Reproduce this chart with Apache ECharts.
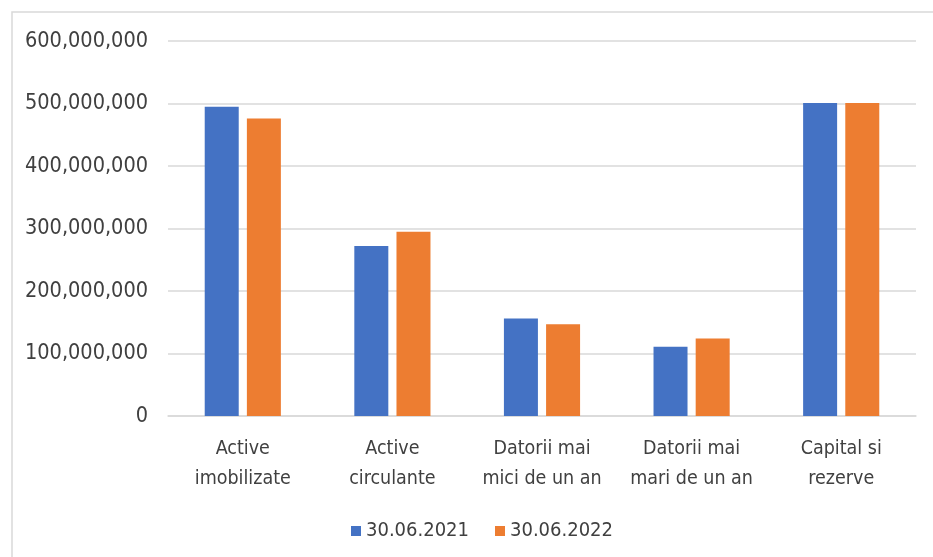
<!DOCTYPE html>
<html>
<head>
<meta charset="utf-8">
<script src="https://cdn.jsdelivr.net/npm/echarts@6/dist/echarts.min.js"></script>
<style>
  html, body { margin: 0; padding: 0; background: #fff; }
  #chart { width: 933px; height: 557px; }
</style>
</head>
<body>
<div id="chart"></div>
<script>
// categories and values
const categories = ['Active\nimobilizate', 'Active\ncirculante', 'Datorii mai\nmici de un an', 'Datorii mai\nmari de un an', 'Capital si\nrezerve'];
const seriesNames = ['30.06.2021', '30.06.2022'];
const values2021 = [495000000, 272000000, 156000000, 111000000, 501000000];
const values2022 = [476000000, 295000000, 147000000, 124000000, 501000000];

const chart = echarts.init(document.getElementById('chart'));
const textColor = '#404040';
const fontFamily = 'DejaVu Sans Condensed, Liberation Sans Narrow, Noto Sans, sans-serif';

const option = {
  animation: false,
  color: ['#4472C4', '#ED7D31'],
  textStyle: { fontFamily: fontFamily },
  graphic: [{
    type: 'rect',
    shape: { x: 12, y: 12, width: 940, height: 560 },
    style: { fill: 'none', stroke: '#D9D9D9', lineWidth: 1.5 },
    silent: true
  }],
  grid: { left: 168, right: 17, top: 41, bottom: 141 },
  legend: {
    data: seriesNames,
    left: 346,
    top: 516,
    itemWidth: 10,
    itemHeight: 10,
    itemGap: 26,
    icon: 'rect',
    textStyle: { color: textColor, fontSize: 20, fontFamily: fontFamily }
  },
  xAxis: {
    type: 'category',
    data: categories,
    axisTick: { show: false },
    axisLine: { lineStyle: { color: '#D9D9D9', width: 1.5 } },
    axisLabel: { color: textColor, fontSize: 19.5, lineHeight: 30, margin: 18, interval: 0 }
  },
  yAxis: {
    type: 'value',
    min: 0,
    max: 600000000,
    interval: 100000000,
    axisLine: { show: false },
    axisTick: { show: false },
    splitLine: { lineStyle: { color: '#D9D9D9', width: 1.5 } },
    axisLabel: {
      color: textColor,
      fontSize: 21.5,
      margin: 20,
      formatter: v => v.toLocaleString('en-US')
    }
  },
  series: [
    { name: seriesNames[0], type: 'bar', data: values2021, barWidth: 34, barGap: '24%' },
    { name: seriesNames[1], type: 'bar', data: values2022, barWidth: 34, barGap: '24%' }
  ]
};

chart.setOption(option);
</script>
</body>
</html>
